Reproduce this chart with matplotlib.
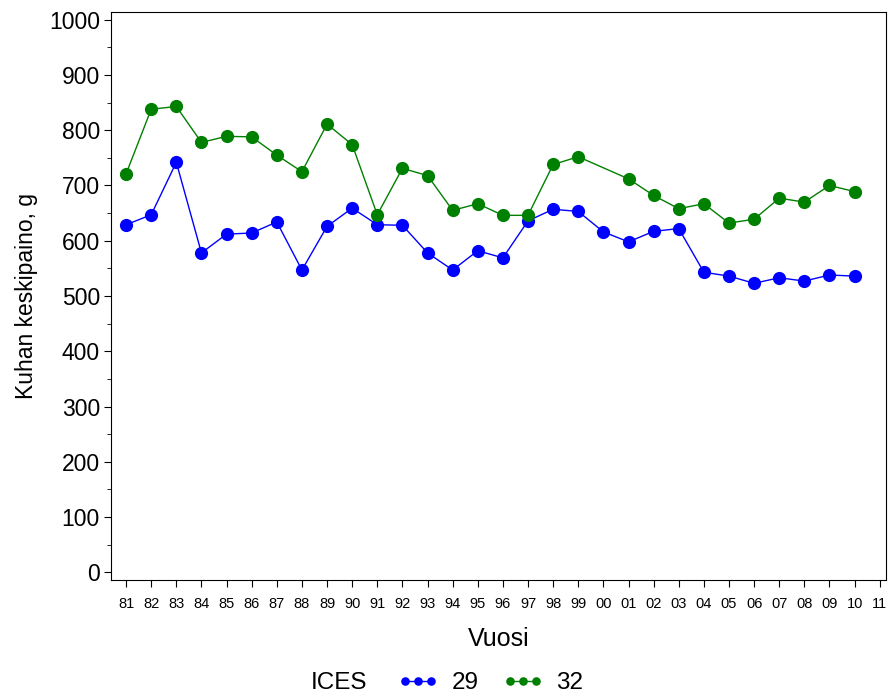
import numpy as np
import matplotlib
matplotlib.use("Agg")
import matplotlib.pyplot as plt
from matplotlib.ticker import MultipleLocator

plt.rcParams['font.family'] = ['Liberation Sans', 'DejaVu Sans']

years = ["81", "82", "83", "84", "85", "86", "87", "88", "89", "90",
         "91", "92", "93", "94", "95", "96", "97", "98", "99", "00",
         "01", "02", "03", "04", "05", "06", "07", "08", "09", "10", "11"]

ices29 = [629, 647, 742, 578, 612, 614, 634, 547, 626, 659,
          629, 628, 578, 547, 582, 569, 636, 657, 653, 616,
          598, 617, 622, 543, 536, 523, 533, 527, 538, 536, np.nan]

ices32 = [721, 838, 843, 778, 789, 788, 755, 725, 811, 774,
          647, 731, 718, 655, 667, 646, 646, 738, 752, np.nan,
          712, 682, 658, 667, 632, 639, 677, 670, 700, 689, np.nan]

series_names = ["29", "32"]
colors = ["#0000FF", "#008000"]

x = np.arange(len(years))

fig = plt.figure(figsize=(8.88, 6.95), dpi=100)
ax = fig.add_axes([111/888, 1 - 580/695, 775/888, 568/695])

handles = []
for vals, col, name in zip([ices29, ices32], colors, series_names):
    v = np.array(vals, dtype=float)
    mask = ~np.isnan(v)
    # join the available years directly, skipping missing ones
    h, = ax.plot(x[mask], v[mask], color=col, lw=1.0, marker='o',
                 markersize=9.5, markeredgewidth=0, label=name)
    handles.append(h)

ax.set_xlim(-0.6, 30.25)
ax.set_ylim(-14, 1014)
ax.set_xticks(x)
ax.set_xticklabels(years, fontsize=10.5)
ax.yaxis.set_major_locator(MultipleLocator(100))
ax.yaxis.set_minor_locator(MultipleLocator(50))
ax.tick_params(axis='y', which='major', labelsize=16.5, length=5, direction='out', pad=3)
ax.tick_params(axis='y', which='minor', length=3, direction='out')
ax.tick_params(axis='x', which='major', length=5, direction='out', pad=7)
for s in ax.spines.values():
    s.set_linewidth(0.8)

ax.set_xlabel("Vuosi", fontsize=18, labelpad=12)
ax.set_ylabel("Kuhan keskipaino, g", fontsize=16.5, labelpad=8)

fig.text(311/888, 1 - 683/695, "ICES", fontsize=17.5, va='center', ha='left')
fig.legend(handles=handles, labels=series_names, loc='center left',
           bbox_to_anchor=(398/888, 1 - 683/695), ncol=2, frameon=False,
           fontsize=17.5, numpoints=3, handlelength=1.65, handletextpad=0.55,
           columnspacing=1.0, markerscale=0.65, borderpad=0, borderaxespad=0)

fig.savefig("out.png", dpi=100)
